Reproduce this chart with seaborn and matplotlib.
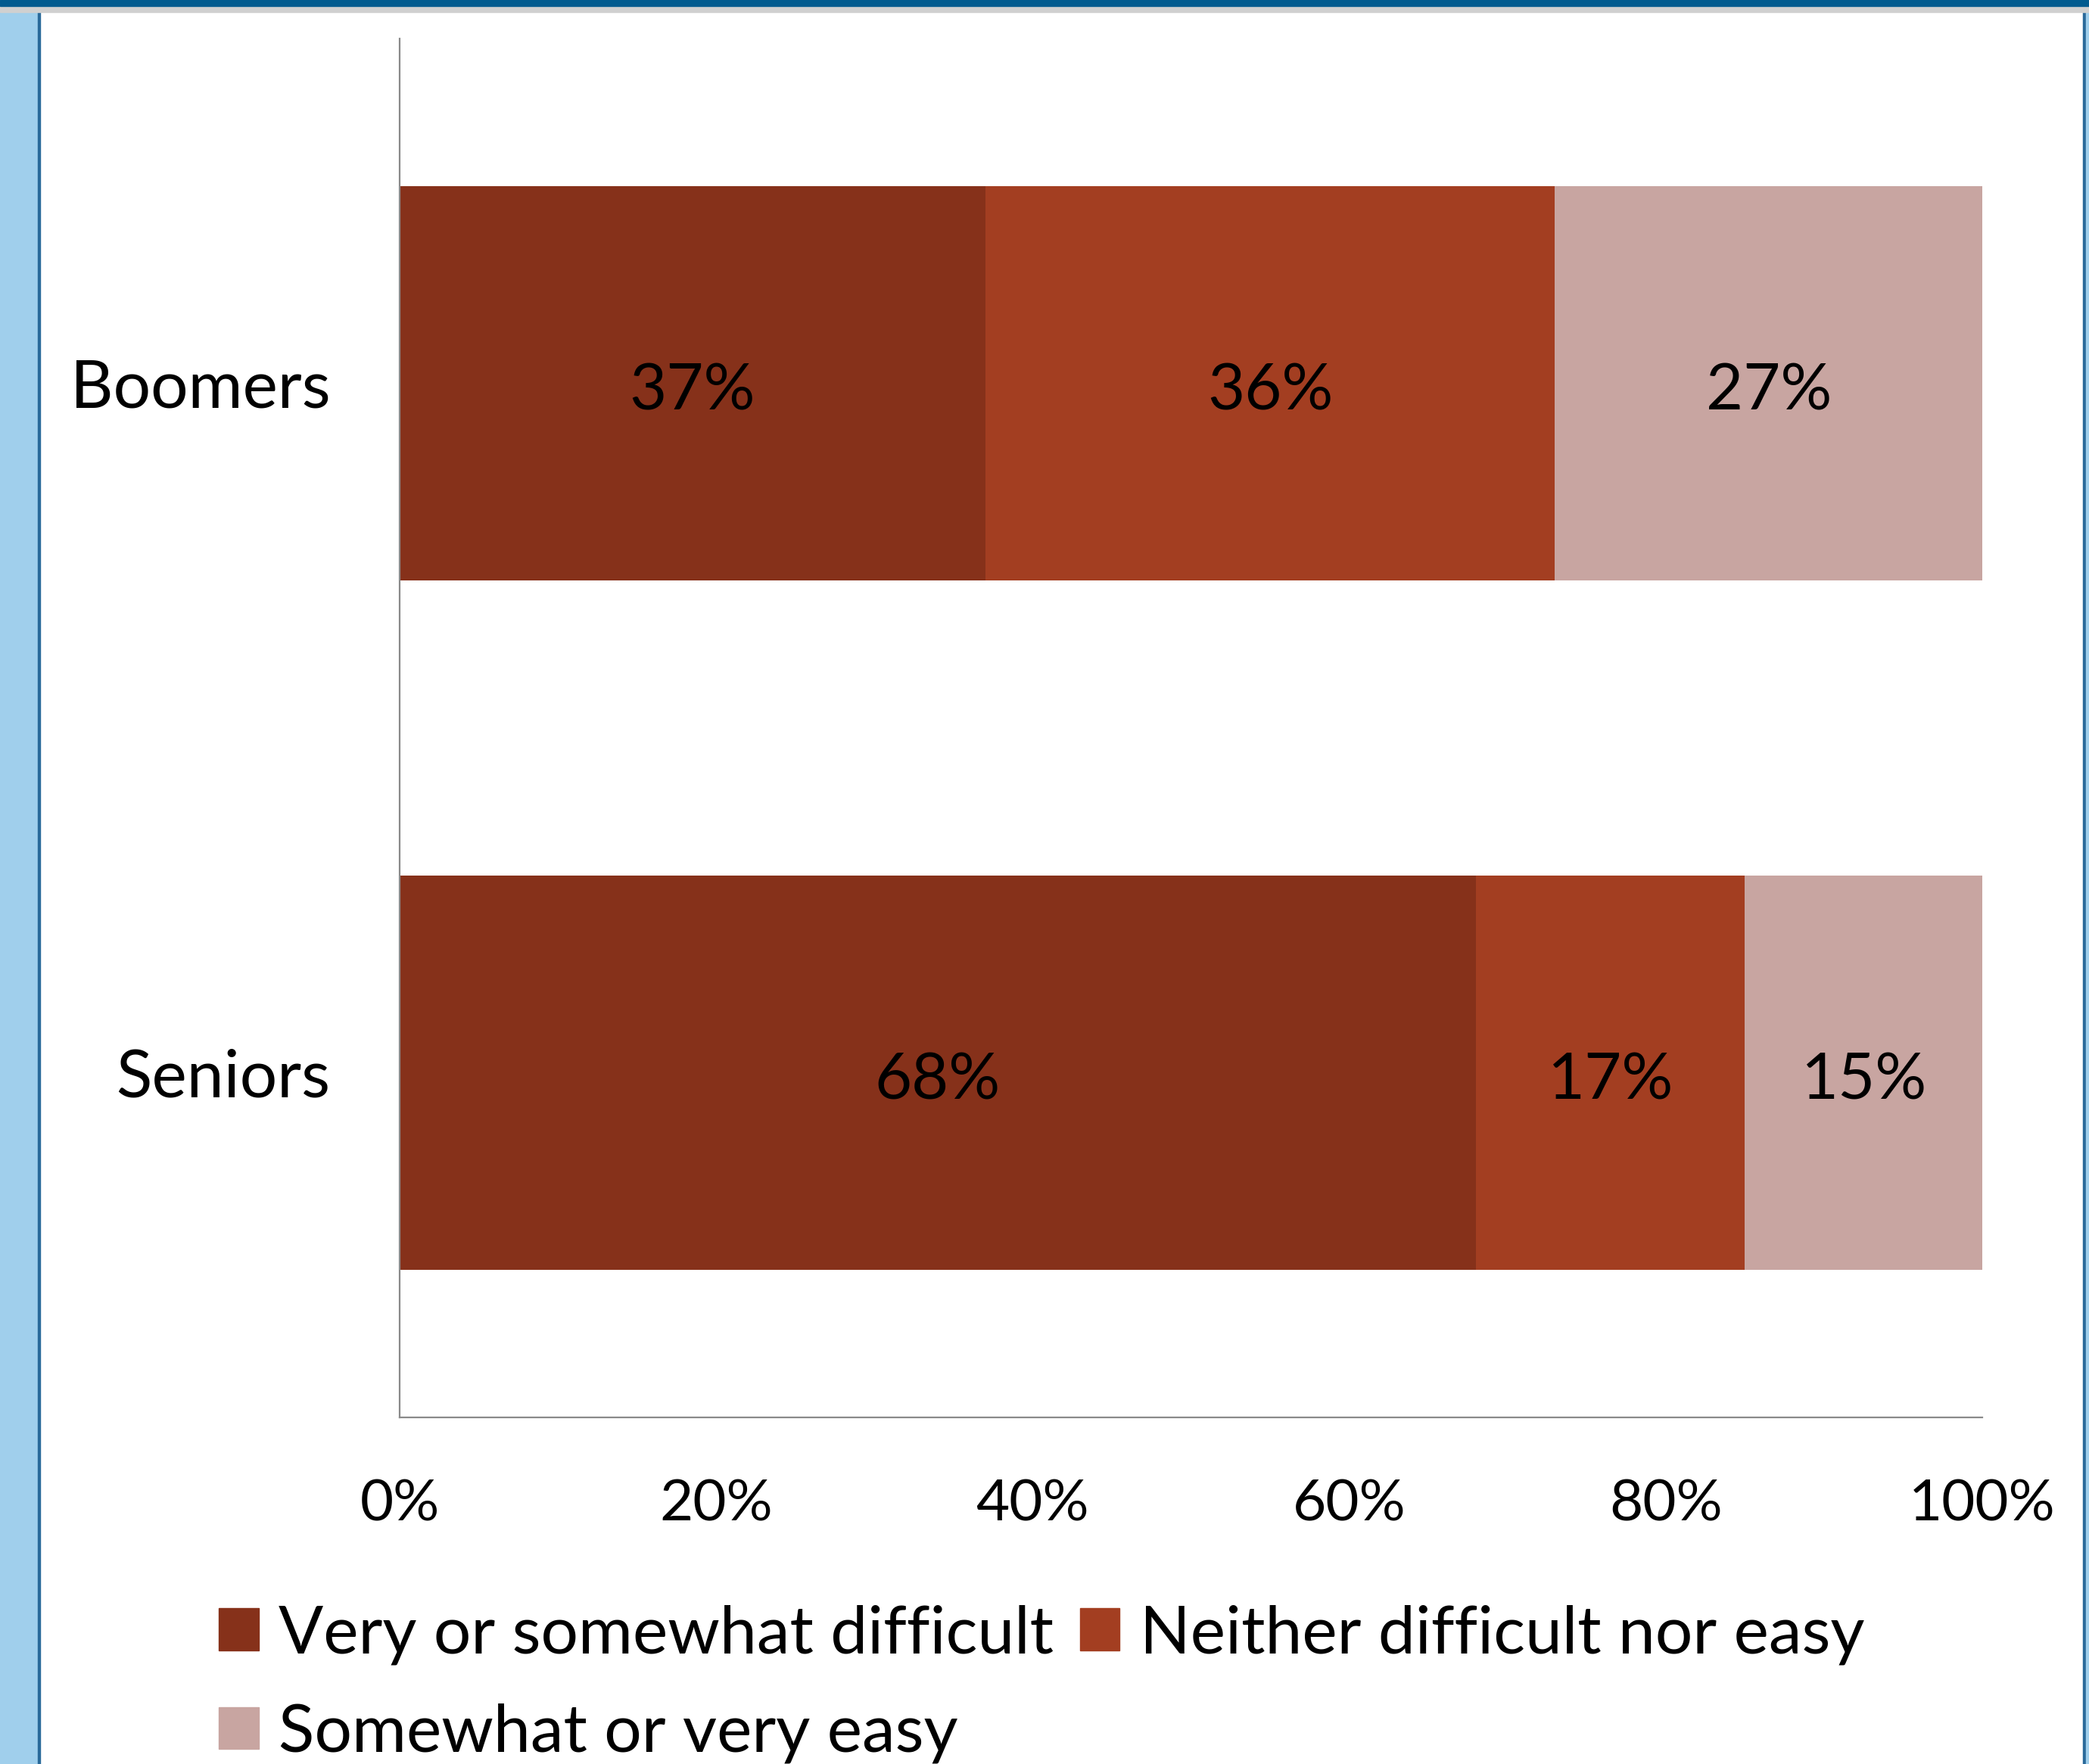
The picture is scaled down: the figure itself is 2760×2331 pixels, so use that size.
import matplotlib
matplotlib.use("Agg")
import matplotlib.pyplot as plt
import seaborn as sns
import pandas as pd
import numpy as np
from matplotlib.patches import Rectangle

# ---- data ----
groups = ["Boomers", "Seniors"]
series_names = ["Very or somewhat difficult", "Neither difficult nor easy", "Somewhat or very easy"]
very_difficult = [37, 68]
neither = [36, 17]
easy = [27, 15]
tick_labels = ["0%", "20%", "40%", "60%", "80%", "100%"]
colors = ["#86311A", "#A33E21", "#C8A5A1"]

sns.set_theme(style="white")
plt.rcParams["font.family"] = ["Lato", "DejaVu Sans"]

W, H = 2760, 2331
fig = plt.figure(figsize=(W / 100, H / 100), dpi=100)
fig.patch.set_facecolor("white")

# window decorations
fig.patches.append(Rectangle((0, 0), 50 / W, 1, transform=fig.transFigure, color="#A0CFEC", zorder=0))
fig.patches.append(Rectangle((50 / W, 0), 3 / W, 1, transform=fig.transFigure, color="#2A6A9A", zorder=0))
fig.patches.append(Rectangle((2752 / W, 0), 4 / W, 1, transform=fig.transFigure, color="#2A6A9A", zorder=0))
fig.patches.append(Rectangle((2756 / W, 0), 4 / W, 1, transform=fig.transFigure, color="#A0CFEC", zorder=0))
fig.patches.append(Rectangle((0, 1 - 16 / H), 1, 8 / H, transform=fig.transFigure, color="#D0D0D0", zorder=0))
fig.patches.append(Rectangle((0, 1 - 8 / H), 1, 8 / H, transform=fig.transFigure, color="#005A8F", zorder=0))

ax = fig.add_axes([528 / W, 1 - 1873 / H, (2619 - 528) / W, (1873 - 51) / H])

df = pd.DataFrame({"group": groups,
                   "v": very_difficult,
                   "n": neither,
                   "e": easy})
df["c1"] = df["v"]
df["c2"] = df["v"] + df["n"]
df["c3"] = df["v"] + df["n"] + df["e"]

for col, color in zip(["c3", "c2", "c1"], colors[::-1]):
    sns.barplot(data=df, x=col, y="group", orient="h", color=color,
                width=0.572, saturation=1, ax=ax, linewidth=0, errorbar=None)

# data labels
for i in range(len(groups)):
    starts = [0, df["c1"][i], df["c2"][i]]
    vals = [df["v"][i], df["n"][i], df["e"][i]]
    for s, v in zip(starts, vals):
        ax.text(s + v / 2, i + 0.012, f"{v}%", ha="center", va="center",
                fontsize=61, color="black")

ax.set_xlim(0, 100)
ax.set_ylim(1.5, -0.5)
ax.set_xticks(np.arange(0, 101, 20))
ax.set_xticklabels(tick_labels)
ax.set_xlabel("")
ax.set_ylabel("")
ax.tick_params(axis="x", length=0, pad=58, labelsize=55, colors="black")
ax.tick_params(axis="y", length=0, pad=66, labelsize=63, colors="black")
for s in ["top", "right"]:
    ax.spines[s].set_visible(False)
for s in ["left", "bottom"]:
    ax.spines[s].set_color("#8A8A8A")
    ax.spines[s].set_linewidth(1.6)

# legend (row-wise order)
handles = [Rectangle((0, 0), 1, 1, color=c) for c in colors]
order = [0, 2, 1]
leg = fig.legend([handles[k] for k in order], [series_names[k] for k in order],
                 loc="upper left", bbox_to_anchor=(289 / W, 1 - 2120 / H),
                 ncol=2, frameon=False, fontsize=63, labelcolor="black",
                 handlelength=0.6, handleheight=0.6, handletextpad=0.3,
                 columnspacing=0.4, labelspacing=0.58, borderpad=0, borderaxespad=0)

fig.savefig("out.png", dpi=100)
